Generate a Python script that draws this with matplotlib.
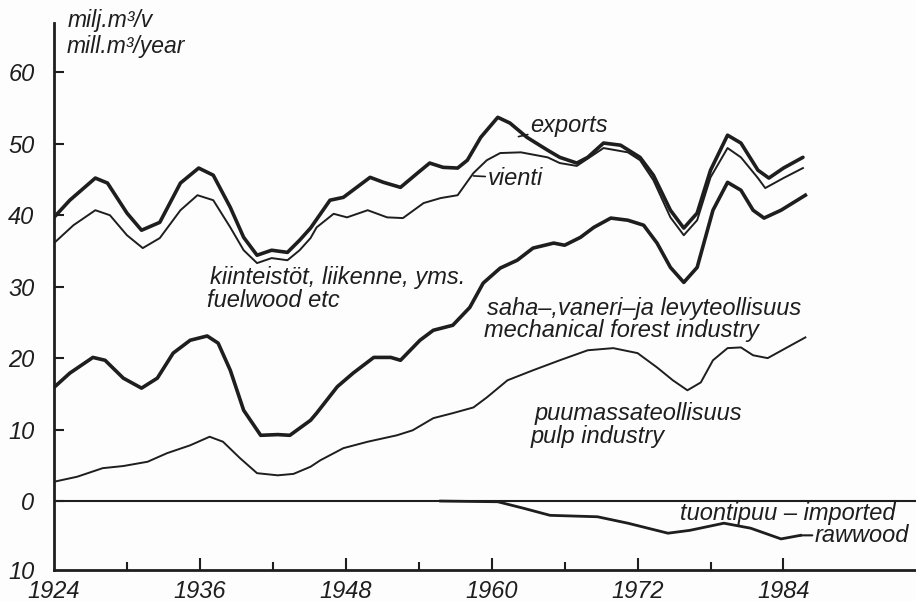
import matplotlib
matplotlib.use("Agg")
import matplotlib.pyplot as plt
from matplotlib.ticker import FixedLocator

# ---------------- data ----------------
total_years = [1924.0, 1925.3, 1927.4, 1928.4, 1930.0, 1931.2, 1932.7, 1934.4, 1935.9, 1937.1,
               1938.5, 1939.6, 1940.7, 1941.9, 1943.2, 1944.2, 1945.1, 1946.7, 1947.8, 1948.9,
               1950.0, 1951.1, 1952.5, 1953.9, 1954.9, 1956.0, 1957.2, 1958.0, 1959.1, 1960.5,
               1961.5, 1962.9, 1964.6, 1965.6, 1967.0, 1967.9, 1969.2, 1970.6, 1972.2, 1973.3,
               1974.7, 1975.8, 1976.9, 1978.0, 1979.4, 1980.5, 1981.9, 1982.8, 1984.0, 1985.6]
total_vals = [39.7, 42.1, 45.2, 44.5, 40.3, 37.9, 39.0, 44.5, 46.6, 45.6,
              41.1, 36.9, 34.4, 35.1, 34.8, 36.5, 38.2, 42.1, 42.5, 43.9,
              45.3, 44.6, 43.9, 45.9, 47.3, 46.7, 46.6, 47.7, 50.9, 53.7,
              52.9, 50.9, 49.1, 48.1, 47.3, 48.1, 50.1, 49.8, 48.1, 45.6,
              40.7, 38.2, 40.3, 46.3, 51.2, 50.1, 46.3, 45.2, 46.6, 48.1]

domestic_years = [1924.0, 1925.6, 1927.4, 1928.6, 1930.0, 1931.3, 1932.7, 1934.4, 1935.8, 1937.1,
                  1938.5, 1939.6, 1940.7, 1941.9, 1943.2, 1944.2, 1945.1, 1945.6, 1947.0, 1948.1,
                  1949.8, 1951.4, 1952.7, 1954.4, 1955.8, 1957.2, 1958.5, 1959.6, 1960.7, 1962.4,
                  1964.6, 1965.6, 1967.0, 1969.2, 1971.2, 1972.2, 1973.3, 1974.7, 1975.8, 1976.9,
                  1978.0, 1979.4, 1980.5, 1981.9, 1982.5, 1984.0, 1985.6]
domestic_vals = [36.1, 38.6, 40.7, 40.0, 37.2, 35.4, 36.8, 40.7, 42.8, 42.1,
                 38.3, 35.1, 33.3, 34.0, 33.7, 35.1, 36.8, 38.3, 40.2, 39.7,
                 40.7, 39.7, 39.6, 41.7, 42.4, 42.8, 45.9, 47.7, 48.7, 48.8,
                 48.1, 47.3, 46.9, 49.4, 48.8, 47.7, 44.9, 39.7, 37.2, 39.3,
                 45.3, 49.4, 48.1, 45.2, 43.8, 45.2, 46.6]

mech_years = [1924.0, 1925.3, 1927.2, 1928.2, 1929.7, 1931.2, 1932.5, 1933.8, 1935.2, 1936.6,
              1937.5, 1938.5, 1939.6, 1941.0, 1942.4, 1943.4, 1945.1, 1945.6, 1947.3, 1948.6,
              1950.3, 1951.7, 1952.5, 1954.1, 1955.2, 1956.8, 1958.2, 1959.3, 1960.7, 1962.1,
              1963.4, 1965.1, 1966.0, 1967.3, 1968.4, 1969.8, 1971.2, 1972.5, 1973.6, 1974.7,
              1975.8, 1976.9, 1978.2, 1979.4, 1980.5, 1981.5, 1982.4, 1983.8, 1985.8]
mech_vals = [15.9, 17.9, 20.1, 19.7, 17.2, 15.8, 17.2, 20.7, 22.5, 23.1,
             22.1, 18.3, 12.7, 9.2, 9.3, 9.2, 11.3, 12.3, 16.0, 17.9,
             20.1, 20.1, 19.7, 22.5, 23.9, 24.6, 27.1, 30.5, 32.6, 33.7,
             35.4, 36.1, 35.8, 36.9, 38.3, 39.6, 39.3, 38.6, 36.1, 32.7,
             30.6, 32.7, 40.7, 44.6, 43.5, 40.7, 39.6, 40.7, 42.8]

pulp_years = [1924.0, 1925.9, 1928.0, 1929.7, 1931.7, 1933.3, 1935.2, 1936.8, 1937.9, 1939.3,
              1940.7, 1942.4, 1943.7, 1945.1, 1945.9, 1947.8, 1949.8, 1952.2, 1953.5, 1955.2,
              1956.8, 1958.5, 1959.6, 1961.3, 1963.4, 1965.6, 1967.9, 1970.0, 1972.0, 1973.6,
              1974.9, 1976.1, 1977.2, 1978.2, 1979.4, 1980.5, 1981.5, 1982.7, 1984.3, 1985.8]
pulp_vals = [2.7, 3.4, 4.6, 4.9, 5.5, 6.7, 7.8, 9.0, 8.3, 6.0,
             3.9, 3.6, 3.8, 4.8, 5.7, 7.4, 8.3, 9.2, 9.9, 11.6,
             12.3, 13.1, 14.5, 16.9, 18.3, 19.7, 21.1, 21.4, 20.7, 18.7,
             16.9, 15.5, 16.6, 19.7, 21.4, 21.5, 20.4, 20.0, 21.5, 22.9]

import_years = [1955.8, 1960.5, 1962.6, 1964.8, 1968.7, 1971.2, 1974.5, 1976.3, 1979.1, 1981.3,
                1983.8, 1985.4]
import_vals = [0.0, -0.1, -1.0, -2.0, -2.2, -3.1, -4.5, -4.1, -3.1, -3.8,
               -5.3, -4.8]

y_ticks = [-9.65, 0, 10, 20, 30, 40, 50, 60]
y_tick_labels = ["10", "0", "10", "20", "30", "40", "50", "60"]
x_major = [1924, 1936, 1948, 1960, 1972, 1984]
x_minor = [1930, 1942, 1954, 1966, 1978]

# ---------------- style ----------------
INK = "#1e1e1e"
NARROW = ["Liberation Sans Narrow", "Liberation Sans", "DejaVu Sans"]
LAB = ["Liberation Sans", "DejaVu Sans"]

fig = plt.figure(figsize=(9.16, 6.01), dpi=100, facecolor="#fdfdfd")
ax = fig.add_axes([54 / 916, 31 / 601, 862 / 916, 547 / 601])
ax.set_facecolor("#fdfdfd")

thick = 2.6
thin = 1.4
ax.plot(total_years, total_vals, color=INK, lw=thick, solid_capstyle="round", solid_joinstyle="round")
ax.plot(domestic_years, domestic_vals, color=INK, lw=thin, solid_joinstyle="round")
ax.plot(mech_years, mech_vals, color=INK, lw=thick, solid_joinstyle="round")
ax.plot(pulp_years, pulp_vals, color=INK, lw=thin, solid_joinstyle="round")
ax.plot(import_years, import_vals, color=INK, lw=2.0, solid_joinstyle="round")

ax.axhline(0, color=INK, lw=1.5)

ax.set_xlim(1924, 1994.9)
ax.set_ylim(-9.65, 66.9)

for s in ["top", "right"]:
    ax.spines[s].set_visible(False)
for s in ["left", "bottom"]:
    ax.spines[s].set_linewidth(2.0)
    ax.spines[s].set_color(INK)

ax.xaxis.set_major_locator(FixedLocator(x_major))
ax.xaxis.set_minor_locator(FixedLocator(x_minor))
ax.set_xticklabels([str(v) for v in x_major])
ax.yaxis.set_major_locator(FixedLocator(y_ticks))
ax.set_yticklabels(y_tick_labels)

ax.tick_params(axis="x", which="major", direction="in", length=9, width=1.5, color=INK, pad=7)
ax.tick_params(axis="x", which="minor", direction="in", length=5.5, width=1.5, color=INK)
ax.tick_params(axis="y", which="major", direction="in", length=7, width=1.5, color=INK, pad=14)
# no visible tick at the very bottom of the y axis or at the corner
ax.yaxis.get_major_ticks()[0].tick1line.set_visible(False)
ax.xaxis.get_major_ticks()[0].tick1line.set_visible(False)

for lbl in ax.get_xticklabels() + ax.get_yticklabels():
    lbl.set_fontfamily(NARROW)
    lbl.set_fontstyle("italic")
    lbl.set_fontsize(17)
    lbl.set_color(INK)

tk = dict(family=LAB, style="italic", color=INK, fontsize=17, va="center", ha="left")
tku = dict(tk, fontsize=16.5)

# unit label
ax.text(1925.1, 67.2, "milj.m³/v", clip_on=False, **tku)
ax.text(1925.0, 63.6, "mill.m³/year", clip_on=False, **tku)

# band labels
ax.text(1936.8, 31.3, "kiinteistöt, liikenne, yms.", **tk)
ax.text(1936.6, 28.1, "fuelwood etc", **tk)
ax.text(1959.6, 27.0, "saha–,vaneri–ja levyteollisuus", **tk)
ax.text(1959.4, 23.8, "mechanical forest industry", **tk)
ax.text(1963.5, 12.3, "puumassateollisuus", **tk)
ax.text(1963.2, 9.0, "pulp industry", **tk)
ax.text(1975.5, -1.7, "tuontipuu – imported", **tk)

# pointer labels
ax.annotate("exports", xy=(1962.2, 51.0), xytext=(1963.2, 52.6),
            arrowprops=dict(arrowstyle="-", color=INK, lw=1.2, shrinkA=0, shrinkB=0), **tk)
ax.annotate("vienti", xy=(1958.5, 45.5), xytext=(1959.7, 45.2),
            arrowprops=dict(arrowstyle="-", color=INK, lw=1.2, shrinkA=0, shrinkB=0), **tk)
ax.annotate("rawwood", xy=(1985.4, -4.8), xytext=(1986.6, -4.8),
            arrowprops=dict(arrowstyle="-", color=INK, lw=1.5, shrinkA=0, shrinkB=0), **tk)

fig.savefig("out.png", dpi=100, facecolor=fig.get_facecolor())
